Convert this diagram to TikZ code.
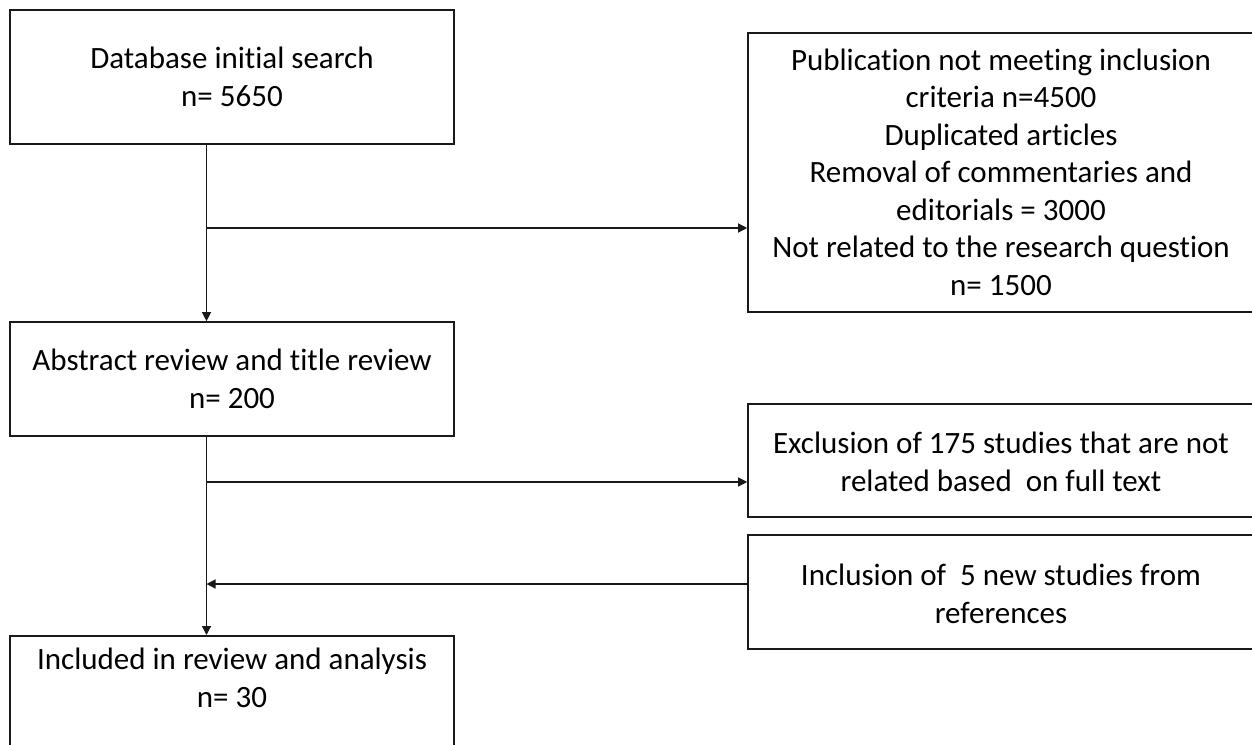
\documentclass[tikz,border=0pt]{standalone}
\usepackage{fontspec}
\setmainfont{Carlito}[Ligatures=CommonOff]
\usetikzlibrary{arrows.meta}
\begin{document}
\begin{tikzpicture}[x=1pt,y=-1pt,
  box/.style={draw=black!90, line width=1.6pt, rectangle, inner sep=0pt, align=center,
    font=\fontsize{31}{37.5}\selectfont},
  txt/.style={inner sep=0pt, align=center, font=\fontsize{31}{37.5}\selectfont},
  conn/.style={draw=black!90, line width=1.2pt, -{Triangle[length=9pt,width=9pt]}}]
\useasboundingbox (0,0) rectangle (1252,744);
\clip (0,0) rectangle (1252,744);
% left column
\node[box, minimum width=444, minimum height=134] (b1) at (232,77) {Database initial search\\n= 5650};
\node[box, minimum width=444, minimum height=114] (b3) at (232,379) {Abstract review and title review\\n= 200};
\node[box, minimum width=444, minimum height=140, anchor=north] (b4) at (232,635) {};
\node[txt] (t4) at (232,678) {Included in review and analysis\\n= 30};
% right column
\node[box, minimum width=512, minimum height=279] (b2) at (1004,172.5) {};
\node[txt] (t2) at (1001,172) {Publication not meeting inclusion\\criteria n=4500\\Duplicated articles\\Removal of commentaries and\\editorials = 3000\\Not related to the research question\\n= 1500};
\node[box, minimum width=512, minimum height=113] (b5) at (1004,460.5) {};
\node[txt] (t5) at (1001,462) {Exclusion of 175 studies that are not\\related based\ \ on full text};
\node[box, minimum width=512, minimum height=114] (b6) at (1004,592) {};
\node[txt] (t6) at (1001,594) {Inclusion of\ \ 5 new studies from\\references};
% connectors
\coordinate (s1) at (206.5,144);
\coordinate (j1) at (206.5,228);
\coordinate (s3) at (206.5,436);
\coordinate (j2) at (206.5,482);
\coordinate (j3) at (206.5,584);
\draw[conn] (s1) -- (s1 |- b3.north);
\draw[conn] (j1) -- (j1 -| b2.west);
\draw[conn] (s3) -- (s3 |- b4.north);
\draw[conn] (j2) -- (j2 -| b5.west);
\draw[conn] (j3 -| b6.west) -- (j3);
\end{tikzpicture}
\end{document}
